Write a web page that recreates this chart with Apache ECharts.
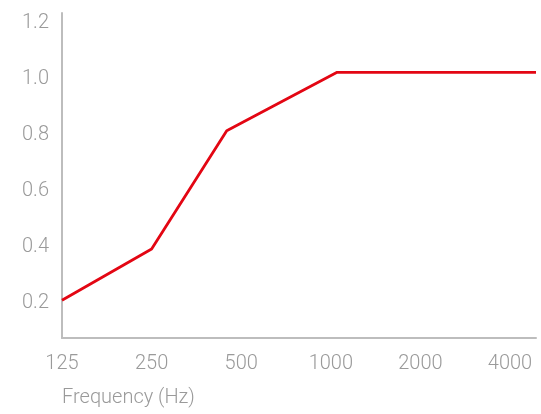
<!DOCTYPE html>
<html>
<head>
<meta charset="utf-8">
<style>
	html, body { margin: 0; padding: 0; background: #fff; }
	#main { width: 541px; height: 414px; }
</style>
<script src="https://cdn.jsdelivr.net/npm/echarts@6/dist/echarts.min.js"></script>
</head>
<body>
<div id="main"></div>
<script>
	// frequency bands (Hz) shown on the axis
	var freqTicks = [125, 250, 500, 1000, 2000, 4000];
	// curve points
	var freqs = [125, 250, 447, 1050, 4890];
	var values = [0.21, 0.393, 0.815, 1.024, 1.024];
	var yTicks = [0.2, 0.4, 0.6, 0.8, 1.0, 1.2];

	// x is drawn as octaves above 125 Hz
	function oct(f) { return Math.log2(f / 125); }

	var data = [];
	for (var i = 0; i < freqs.length; i++) {
		data.push([oct(freqs[i]), values[i]]);
	}

	var labelFont = {
		color: '#9a9a9a',
		fontFamily: 'Roboto',
		fontWeight: 300,
		fontSize: 20
	};

	var myChart = echarts.init(document.getElementById('main'));
	var option = {
		animation: false,
		grid: { left: 62, right: 5, top: 13, bottom: 76 },
		xAxis: {
			type: 'value',
			min: 0,
			max: oct(4890),
			name: 'Frequency (Hz)',
			nameLocation: 'start',
			nameGap: 0,
			nameTextStyle: {
				color: '#9a9a9a', fontFamily: 'Roboto', fontWeight: 300, fontSize: 20,
				align: 'left', verticalAlign: 'top', padding: [50, 0, 0, 0]
			},
			axisLine: { show: true, lineStyle: { color: '#bdbdbd', width: 2 } },
			axisTick: { show: false },
			splitLine: { show: false },
			axisLabel: Object.assign({
				margin: 16,
				customValues: freqTicks.map(oct),
				formatter: function (v) { return String(Math.round(125 * Math.pow(2, v))); }
			}, labelFont)
		},
		yAxis: {
			type: 'value',
			min: 0.075,
			max: 1.236,
			axisLine: { show: true, lineStyle: { color: '#bdbdbd', width: 2 } },
			axisTick: { show: false },
			splitLine: { show: false },
			axisLabel: Object.assign({
				margin: 13,
				padding: [4, 0, 0, 0],
				customValues: yTicks,
				formatter: function (v) { return v.toFixed(1); }
			}, labelFont)
		},
		series: [{
			type: 'line',
			data: data,
			symbol: 'none',
			lineStyle: { color: '#e30613', width: 2.8 }
		}]
	};
	myChart.setOption(option);
</script>
</body>
</html>
